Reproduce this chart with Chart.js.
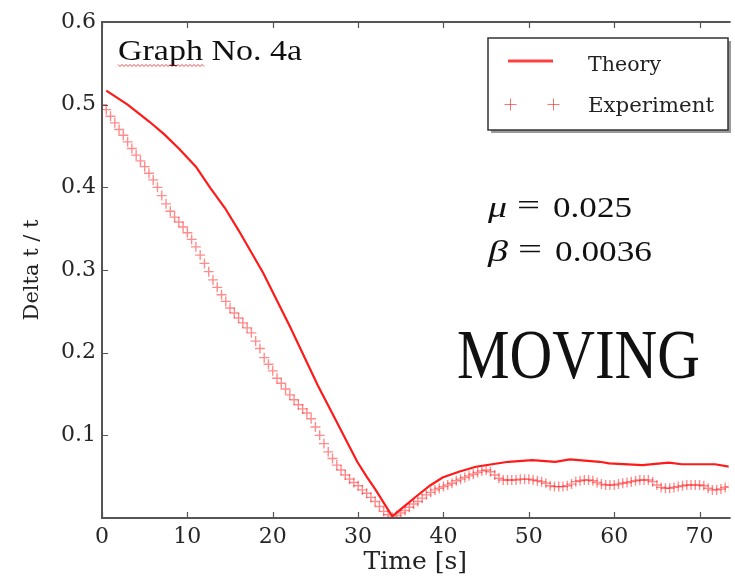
<!DOCTYPE html>
<html>
<head>
<meta charset="utf-8">
<script src="https://cdn.jsdelivr.net/npm/chart.js@4.4.1/dist/chart.umd.min.js"></script>
<style>
  html, body { margin: 0; padding: 0; background: #fff; }
  #wrap { width: 735px; height: 577px; }
</style>
</head>
<body>
<div id="wrap"><canvas id="my-chart" width="735" height="577"></canvas></div>
<script>
// values
const expTime = [
  0, 0.5, 1, 1.5, 2, 2.5, 3, 3.5, 4, 4.5, 5, 5.5, 6, 6.5, 7, 7.5, 8, 8.5, 9, 9.5,
  10, 10.5, 11, 11.5, 12, 12.5, 13, 13.5, 14, 14.5, 15, 15.5, 16, 16.5, 17, 17.5, 18, 18.5, 19, 19.5,
  20, 20.5, 21, 21.5, 22, 22.5, 23, 23.5, 24, 24.5, 25, 25.5, 26, 26.5, 27, 27.5, 28, 28.5, 29, 29.5,
  30, 30.5, 31, 31.5, 32, 32.5, 33, 33.5, 34, 34.5, 35, 35.5, 36, 36.5, 37, 37.5, 38, 38.5, 39, 39.5,
  40, 40.5, 41, 41.5, 42, 42.5, 43, 43.5, 44, 44.5, 45, 45.5, 46, 46.5, 47, 47.5, 48, 48.5, 49, 49.5,
  50, 50.5, 51, 51.5, 52, 52.5, 53, 53.5, 54, 54.5, 55, 55.5, 56, 56.5, 57, 57.5, 58, 58.5, 59, 59.5,
  60, 60.5, 61, 61.5, 62, 62.5, 63, 63.5, 64, 64.5, 65, 65.5, 66, 66.5, 67, 67.5, 68, 68.5, 69, 69.5,
  70, 70.5, 71, 71.5, 72, 72.5, 73, 73.5
];
const expValues = [
  0.500, 0.494, 0.486, 0.478, 0.470, 0.463, 0.455, 0.447, 0.439, 0.432, 0.425, 0.417, 0.409, 0.400, 0.390, 0.380, 0.371, 0.364, 0.358, 0.352,
  0.345, 0.337, 0.328, 0.318, 0.308, 0.298, 0.288, 0.279, 0.270, 0.262, 0.254, 0.248, 0.242, 0.236, 0.230, 0.224, 0.214, 0.205, 0.194, 0.186,
  0.178, 0.169, 0.163, 0.156, 0.149, 0.143, 0.137, 0.132, 0.127, 0.120, 0.110, 0.100, 0.090, 0.080, 0.072, 0.064, 0.058, 0.052, 0.047, 0.043,
  0.039, 0.034, 0.030, 0.025, 0.020, 0.014, 0.008, 0.004, 0.001, 0.003, 0.006, 0.009, 0.013, 0.017, 0.020, 0.024, 0.028, 0.031, 0.034, 0.036,
  0.038, 0.040, 0.042, 0.045, 0.047, 0.049, 0.051, 0.053, 0.055, 0.057, 0.058, 0.056, 0.052, 0.048, 0.046, 0.046, 0.046, 0.046, 0.047, 0.047,
  0.047, 0.046, 0.045, 0.044, 0.042, 0.039, 0.038, 0.038, 0.038, 0.039, 0.041, 0.044, 0.045, 0.046, 0.046, 0.045, 0.043, 0.041, 0.040, 0.040,
  0.040, 0.041, 0.042, 0.043, 0.044, 0.045, 0.046, 0.046, 0.046, 0.044, 0.040, 0.037, 0.036, 0.036, 0.037, 0.038, 0.039, 0.040, 0.040, 0.040,
  0.040, 0.039, 0.036, 0.034, 0.034, 0.035, 0.037, 0.038
];
const theoryTime = [0.5, 3, 5.6, 7.3, 9, 11, 12.7, 14.4, 16, 18.9, 22, 25.3, 27, 29.9, 31, 32, 34, 35.4, 36.8, 38.4, 39.9, 41.8, 43.8, 47.6, 50.4, 53.1, 54.8, 58.3, 59.4, 63.3, 66.4, 67.9, 71.8, 73.5];
const theoryValues = [0.517, 0.500, 0.479, 0.464, 0.447, 0.425, 0.399, 0.375, 0.348, 0.296, 0.232, 0.160, 0.126, 0.068, 0.050, 0.035, 0.002, 0.014, 0.026, 0.039, 0.049, 0.056, 0.062, 0.068, 0.070, 0.068, 0.071, 0.068, 0.066, 0.064, 0.067, 0.065, 0.065, 0.062];
const xTicks = [0, 10, 20, 30, 40, 50, 60, 70];
const yTicks = [0.1, 0.2, 0.3, 0.4, 0.5, 0.6];

const serif = "'DejaVu Serif', serif";
const axisColor = "#555";

// draw text squeezed/stretched to a given width
const fitText = (ctx, txt, x, y, w, font) => {
    ctx.font = font;
    const m = ctx.measureText(txt).width;
    ctx.save();
    ctx.translate(x, y);
    ctx.scale(w / m, 1);
    ctx.fillText(txt, 0, 0);
    ctx.restore();
};

const decorations = {
    id: "decorations",
    afterDraw(chart) {
        const ctx = chart.ctx;
        const a = chart.chartArea;
        const xs = chart.scales.x, ys = chart.scales.y;

        // frame: left, top, bottom (right side is cut off)
        ctx.save();
        ctx.strokeStyle = axisColor;
        ctx.lineWidth = 2;
        ctx.beginPath();
        ctx.moveTo(a.right + 2, a.top); ctx.lineTo(a.left, a.top);
        ctx.lineTo(a.left, a.bottom); ctx.lineTo(a.right + 2, a.bottom);
        ctx.stroke();

        // inward tick marks
        ctx.lineWidth = 1.2;
        ctx.beginPath();
        xTicks.forEach(v => {
            const px = Math.round(xs.getPixelForValue(v)) + 0.5;
            ctx.moveTo(px, a.bottom); ctx.lineTo(px, a.bottom - 6);
            ctx.moveTo(px, a.top); ctx.lineTo(px, a.top + 6);
        });
        yTicks.forEach(v => {
            const py = Math.round(ys.getPixelForValue(v)) + 0.5;
            ctx.moveTo(a.left, py); ctx.lineTo(a.left + 6, py);
        });
        ctx.stroke();

        // legend box with shadow
        ctx.fillStyle = "#9a9a9a";
        ctx.fillRect(491, 41, 240, 92);
        ctx.fillStyle = "#fff";
        ctx.fillRect(488, 38, 240, 92);
        ctx.strokeStyle = "#333";
        ctx.lineWidth = 1.5;
        ctx.strokeRect(488, 38, 240, 92);

        ctx.strokeStyle = "#ff4040";
        ctx.lineWidth = 3;
        ctx.beginPath();
        ctx.moveTo(508, 61); ctx.lineTo(553, 61);
        ctx.stroke();

        ctx.strokeStyle = "rgba(255,0,0,0.55)";
        ctx.lineWidth = 1;
        ctx.beginPath();
        [510.5, 553.5].forEach(cx => {
            ctx.moveTo(cx - 6, 104.5); ctx.lineTo(cx + 6, 104.5);
            ctx.moveTo(cx, 98.5); ctx.lineTo(cx, 110.5);
        });
        ctx.stroke();

        ctx.fillStyle = "#222";
        ctx.textBaseline = "alphabetic";
        ctx.textAlign = "left";
        fitText(ctx, "Theory", 588, 71, 73, "20px " + serif);
        fitText(ctx, "Experiment", 588, 112, 126, "20px " + serif);

        // annotations
        ctx.fillStyle = "#111";
        fitText(ctx, "Graph No. 4a", 118, 60, 184, "30px 'Liberation Serif', serif");

        // spell-check squiggle under "Graph"
        ctx.strokeStyle = "rgba(230,0,0,0.7)";
        ctx.lineWidth = 1;
        ctx.beginPath();
        for (let x = 118, i = 0; x <= 205; x += 2, i++) {
            const y = 65 + (i % 2 ? 1.5 : -0.5);
            i === 0 ? ctx.moveTo(x, y) : ctx.lineTo(x, y);
        }
        ctx.stroke();

        ctx.fillStyle = "#111";
        fitText(ctx, "\u03bc", 488, 217, 19, "italic 30px 'Liberation Serif', serif");
        fitText(ctx, "=", 517, 215, 23, "30px 'Liberation Serif', serif");
        fitText(ctx, "0.025", 553, 217, 79, "30px 'Liberation Serif', serif");
        fitText(ctx, "\u03b2", 488, 261, 20, "italic 30px 'Liberation Serif', serif");
        fitText(ctx, "=", 518, 259, 24, "30px 'Liberation Serif', serif");
        fitText(ctx, "0.0036", 555, 261, 97, "30px 'Liberation Serif', serif");

        fitText(ctx, "MOVING", 457, 378, 243, "70px 'Liberation Serif', serif");
        ctx.restore();
    }
};

const myChart = document.getElementById("my-chart");

new Chart(myChart, {
    type: "line",
    data: {
        datasets: [
            {
                label: "Theory",
                data: theoryTime.map((t, i) => ({ x: t, y: theoryValues[i] })),
                borderColor: "#ff1a1a",
                borderWidth: 2.2,
                pointRadius: 0,
                tension: 0,
                order: 1,
            },
            {
                label: "Experiment",
                data: expTime.map((t, i) => ({ x: t, y: expValues[i] })),
                showLine: false,
                pointStyle: "cross",
                pointRadius: 5,
                borderColor: "rgba(255,0,0,0.45)",
                borderWidth: 1.4,
                order: 2,
            },
        ],
    },
    options: {
        responsive: false,
        animation: false,
        devicePixelRatio: 1,
        layout: { padding: { top: 22, right: 0, left: 0, bottom: 0 } },
        plugins: {
            legend: { display: false },
            tooltip: { enabled: false },
        },
        scales: {
            x: {
                type: "linear",
                min: 0,
                max: 73.4,
                afterFit: s => { s.height = 59; },
                afterBuildTicks: s => { s.ticks = xTicks.map(v => ({ value: v })); },
                grid: { display: false, drawTicks: false },
                border: { display: false },
                ticks: {
                    padding: 6,
                    color: "#262626",
                    font: { family: serif, size: 22 },
                    maxRotation: 0,
                },
                title: {
                    display: true,
                    text: "Time [s]",
                    color: "#222",
                    font: { family: serif, size: 25 },
                    padding: { top: 0, bottom: 0 },
                },
            },
            y: {
                min: 0,
                max: 0.6,
                afterFit: s => { s.width = 102; },
                afterBuildTicks: s => { s.ticks = yTicks.map(v => ({ value: v })); },
                grid: { display: false, drawTicks: false },
                border: { display: false },
                ticks: {
                    padding: 6,
                    color: "#262626",
                    font: { family: serif, size: 22 },
                    callback: v => v.toFixed(1),
                },
                title: {
                    display: true,
                    text: "Delta t / t",
                    color: "#222",
                    font: { family: serif, size: 21 },
                    padding: { top: 20, bottom: 0 },
                },
            },
        },
    },
    plugins: [decorations],
});
</script>
</body>
</html>
